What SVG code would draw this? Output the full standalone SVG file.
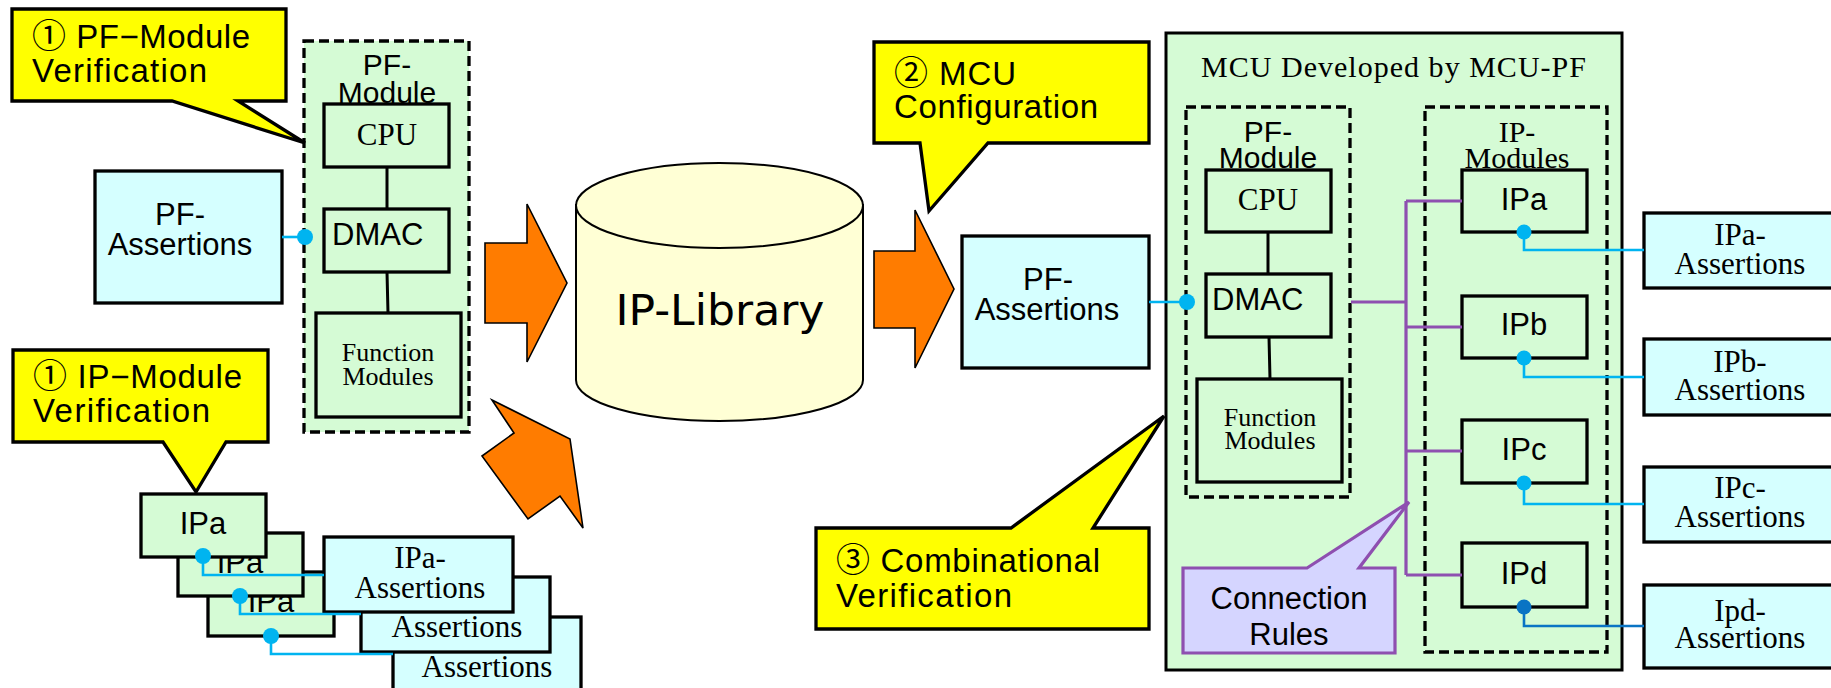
<svg xmlns="http://www.w3.org/2000/svg" width="1831" height="688" viewBox="0 0 1831 688">
  <style>
    .mod { fill: #D5FBD5; stroke: #000; stroke-width: 3.3; }
    .cont { fill: #D5FBD5; stroke: #000; stroke-width: 3.3; stroke-dasharray: 10 5; }
    .asrt { fill: #D5FFFF; stroke: #000; stroke-width: 3.3; }
    .call { fill: #FFFF00; stroke: #000; stroke-width: 3.3; stroke-linejoin: miter; }
    .arrow { fill: #FF7C00; stroke: #000; stroke-width: 1.6; stroke-linejoin: miter; }
    .sans { font-family: "Liberation Sans", Arial, sans-serif; fill: #000; }
    .serif { font-family: "Liberation Serif", "Times New Roman", serif; fill: #000; }
    .c { text-anchor: middle; }
    .f31 { font-size: 31px; }
    .f30 { font-size: 30px; }
    .f26 { font-size: 26px; }
    .callt { font-family: "Liberation Sans", "DejaVu Sans", "Noto Sans CJK JP", sans-serif; font-size: 33px; fill: #000; }
    .num { font-family: "Noto Sans CJK JP", "DejaVu Sans", sans-serif; font-size: 34px; }
    .wire { fill: none; stroke: #000; stroke-width: 3; }
    .cyan { fill: none; stroke: #00B4F0; stroke-width: 2.6; }
    .cyandot { fill: #00B4F0; }
    .blue { fill: none; stroke: #0A74C4; stroke-width: 2.6; }
    .bluedot { fill: #0A74C4; }
    .bus { fill: none; stroke: #8E4FB0; stroke-width: 3.2; }
  </style>

  <!-- PF-Module verification side -->
  <g id="pf-module-left">
    <rect class="cont" x="304" y="41" width="165" height="391"/>
    <text class="sans f30 c" x="387" y="75">PF-</text>
    <text class="sans f30 c" x="387" y="103">Module</text>
  </g>
  <g id="cpu-left">
    <rect class="mod" x="324" y="104" width="125" height="63"/>
    <text class="serif f31 c" x="387" y="145">CPU</text>
  </g>
  <g id="dmac-left">
    <rect class="mod" x="324" y="209" width="125" height="63"/>
    <text class="sans f31" x="332" y="245">DMAC</text>
  </g>
  <g id="func-left">
    <rect class="mod" x="316" y="313" width="145" height="104"/>
    <text class="serif f26 c" x="388" y="361">Function</text>
    <text class="serif f26 c" x="388" y="385">Modules</text>
  </g>
  <g id="pf-assert-left">
    <rect class="asrt" x="95" y="171" width="187" height="132"/>
    <text class="sans f31 c" x="180" y="225">PF-</text>
    <text class="sans f31 c" x="180" y="255">Assertions</text>
  </g>

  <!-- IP-module stack -->
  <g id="ipa-stack-3">
    <rect class="mod" x="208" y="572" width="126" height="64"/>
    <text class="sans f31 c" x="271" y="612">IPa</text>
  </g>
  <g id="ipa-stack-2">
    <rect class="mod" x="178" y="533" width="125" height="63"/>
    <text class="sans f31 c" x="240" y="573">IPa</text>
  </g>
  <g id="ipa-stack-1">
    <rect class="mod" x="141" y="494" width="125" height="63"/>
    <text class="sans f31 c" x="203" y="534">IPa</text>
  </g>
  <g id="ipa-assert-stack-3">
    <rect class="asrt" x="393" y="617" width="188" height="100"/>
    <text class="serif f31 c" x="487" y="677">Assertions</text>
  </g>
  <g id="ipa-assert-stack-2">
    <rect class="asrt" x="361" y="577" width="189" height="75"/>
    <text class="serif f31 c" x="457" y="637">Assertions</text>
  </g>
  <g id="ipa-assert-stack-1">
    <rect class="asrt" x="324" y="537" width="189" height="75"/>
    <text class="serif f31 c" x="420" y="568">IPa-</text>
    <text class="serif f31 c" x="420" y="598">Assertions</text>
  </g>

  <!-- flow arrows and library -->
  <g id="arrow-pf-to-lib">
    <polygon class="arrow" points="485,243 527,243 527,204 567,283 527,362 527,323 485,323"/>
  </g>
  <g id="arrow-ip-to-lib">
    <polygon class="arrow" points="492,400 570,439 583,528 560,496 528,519 482,456 514,433"/>
  </g>
  <g id="ip-library">
    <path d="M576,205 V380 A143.5,41 0 0 0 863,380 V205 Z" fill="#FFFFD5" stroke="#000" stroke-width="2"/>
    <ellipse cx="719.5" cy="205.5" rx="143.5" ry="42.5" fill="#FFFFD5" stroke="#000" stroke-width="2"/>
    <text x="720" y="325" font-family="DejaVu Sans, sans-serif" font-size="42" text-anchor="middle" textLength="209" lengthAdjust="spacingAndGlyphs">IP-Library</text>
  </g>
  <g id="arrow-lib-to-mcu">
    <polygon class="arrow" points="874,251 915,251 915,210 954,289 915,368 915,328 874,328"/>
  </g>
  <g id="pf-assert-right">
    <rect class="asrt" x="962" y="236" width="187" height="132"/>
    <text class="sans f31 c" x="1048" y="290">PF-</text>
    <text class="sans f31 c" x="1047" y="320">Assertions</text>
  </g>

  <!-- MCU built on the platform -->
  <g id="mcu">
    <rect x="1166" y="33" width="456" height="637" fill="#D5FBD5" stroke="#000" stroke-width="3"/>
    <text class="serif" x="1201" y="77" font-size="30" textLength="385">MCU Developed by MCU-PF</text>
  </g>
  <g id="pf-module-right">
    <rect class="cont" x="1186" y="107" width="164" height="390"/>
    <text class="sans f30 c" x="1268" y="142">PF-</text>
    <text class="sans f30 c" x="1268" y="168">Module</text>
  </g>
  <g id="cpu-right">
    <rect class="mod" x="1206" y="170" width="125" height="62"/>
    <text class="serif f31 c" x="1268" y="210">CPU</text>
  </g>
  <g id="dmac-right">
    <rect class="mod" x="1206" y="274" width="125" height="63"/>
    <text class="sans f31" x="1212" y="310">DMAC</text>
  </g>
  <g id="func-right">
    <rect class="mod" x="1197" y="379" width="145" height="103"/>
    <text class="serif f26 c" x="1270" y="426">Function</text>
    <text class="serif f26 c" x="1270" y="449">Modules</text>
  </g>
  <g id="ip-modules">
    <rect class="cont" x="1425" y="107" width="182" height="545"/>
    <text class="serif f30 c" x="1517" y="142">IP-</text>
    <text class="serif f30 c" x="1517" y="168">Modules</text>
  </g>
  <g id="ipa">
    <rect class="mod" x="1462" y="170" width="125" height="62"/>
    <text class="sans f31 c" x="1524" y="210">IPa</text>
  </g>
  <g id="ipb">
    <rect class="mod" x="1462" y="296" width="125" height="62"/>
    <text class="sans f31 c" x="1524" y="335">IPb</text>
  </g>
  <g id="ipc">
    <rect class="mod" x="1462" y="420" width="125" height="63"/>
    <text class="sans f31 c" x="1524" y="460">IPc</text>
  </g>
  <g id="ipd">
    <rect class="mod" x="1462" y="543" width="125" height="64"/>
    <text class="sans f31 c" x="1524" y="584">IPd</text>
  </g>
  <g id="ipa-assert">
    <rect class="asrt" x="1644" y="213" width="220" height="75"/>
    <text class="serif f31 c" x="1740" y="245">IPa-</text>
    <text class="serif f31 c" x="1740" y="274">Assertions</text>
  </g>
  <g id="ipb-assert">
    <rect class="asrt" x="1644" y="339" width="220" height="76"/>
    <text class="serif f31 c" x="1740" y="372">IPb-</text>
    <text class="serif f31 c" x="1740" y="400">Assertions</text>
  </g>
  <g id="ipc-assert">
    <rect class="asrt" x="1644" y="467" width="220" height="75"/>
    <text class="serif f31 c" x="1740" y="498">IPc-</text>
    <text class="serif f31 c" x="1740" y="527">Assertions</text>
  </g>
  <g id="ipd-assert">
    <rect class="asrt" x="1644" y="585" width="220" height="83"/>
    <text class="serif f31 c" x="1740" y="621">Ipd-</text>
    <text class="serif f31 c" x="1740" y="648">Assertions</text>
  </g>

  <!-- connectors -->
  <g id="connectors">
    <path class="wire" d="M387,167 V209 M387,272 L388,313"/>
    <path class="wire" d="M1268,232 V274 M1269,337 L1270,379"/>

    <path class="cyan" d="M282,237 H305"/>
    <circle class="cyandot" cx="305" cy="237" r="8"/>
    <path class="cyan" d="M203,556 V575 H324"/>
    <circle class="cyandot" cx="203" cy="556" r="8"/>
    <path class="cyan" d="M240,596 V614 H361"/>
    <circle class="cyandot" cx="240" cy="596" r="8"/>
    <path class="cyan" d="M271,636 V654 H393"/>
    <circle class="cyandot" cx="271" cy="636" r="8"/>

    <path class="cyan" d="M1149,302 H1187"/>
    <circle class="cyandot" cx="1187" cy="302" r="8"/>
    <path class="cyan" d="M1524,232 V250 H1644"/>
    <circle class="cyandot" cx="1524" cy="232" r="7.5"/>
    <path class="cyan" d="M1524,358 V377 H1644"/>
    <circle class="cyandot" cx="1524" cy="358" r="7.5"/>
    <path class="cyan" d="M1524,483 V504 H1644"/>
    <circle class="cyandot" cx="1524" cy="483" r="7.5"/>
    <path class="blue" d="M1524,607 V626 H1644"/>
    <circle class="bluedot" cx="1524" cy="607" r="7.5"/>

    <path class="bus" d="M1351,302 H1406 M1406,201 V575 M1406,201 H1462 M1406,327 H1462 M1406,451 H1462 M1406,575 H1462"/>
  </g>

  <!-- callouts -->
  <g id="callout-pf-verif">
    <path class="call" d="M12,9 H286 V101 H238 L305,143 L172,101 H12 Z"/>
    <text class="callt" x="32" y="48" textLength="218"><tspan class="num">①</tspan> PF−Module</text>
    <text class="callt" x="32" y="82" textLength="175">Verification</text>
  </g>
  <g id="callout-ip-verif">
    <path class="call" d="M13,350 H268 V442 H226 L196,492 L163,442 H13 Z"/>
    <text class="callt" x="33" y="388" textLength="209"><tspan class="num">①</tspan> IP−Module</text>
    <text class="callt" x="33" y="422" textLength="177">Verification</text>
  </g>
  <g id="callout-mcu-config">
    <path class="call" d="M874,42 H1149 V143 H988 L929,211 L920,143 H874 Z"/>
    <text class="callt" x="894" y="85" textLength="122"><tspan class="num">②</tspan> MCU</text>
    <text class="callt" x="894" y="118" textLength="204">Configuration</text>
  </g>
  <g id="callout-comb-verif">
    <path class="call" d="M816,528 H1011 L1164,416 L1093,528 H1149 V629 H816 Z"/>
    <text class="callt" x="836" y="572" textLength="264"><tspan class="num">③</tspan> Combinational</text>
    <text class="callt" x="836" y="607" textLength="176">Verification</text>
  </g>
  <g id="callout-conn-rules">
    <path d="M1183,568 H1307 L1409,502 L1359,568 H1395 V653 H1183 Z" fill="#D5D5FF" stroke="#8E4FB0" stroke-width="3.2"/>
    <text class="sans f31 c" x="1289" y="609">Connection</text>
    <text class="sans f31 c" x="1289" y="645">Rules</text>
  </g>
</svg>
